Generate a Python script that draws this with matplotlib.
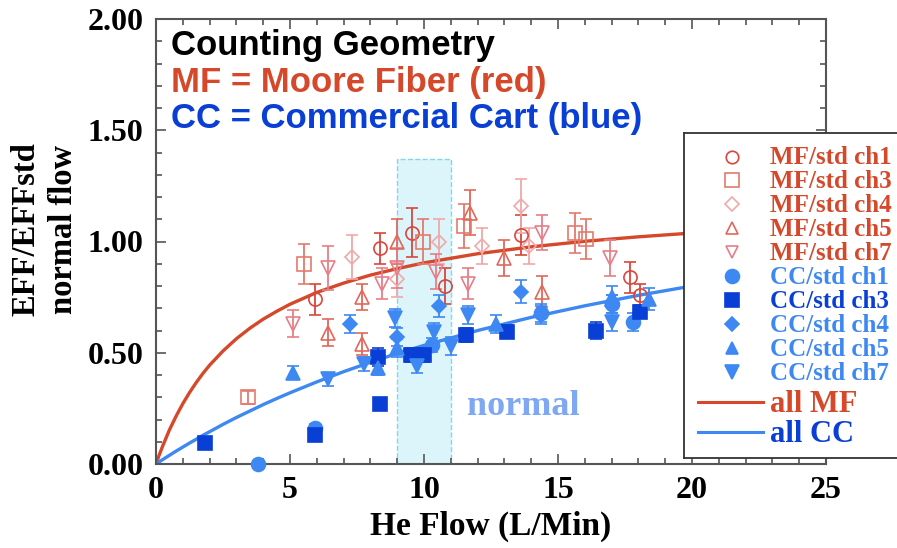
import matplotlib
matplotlib.use("Agg")
import matplotlib.pyplot as plt

# ---------------- data ----------------
mf1_x = [5.94, 8.34, 9.55, 10.8, 13.63, 17.7, 18.05]
mf1_y = [0.74, 0.97, 1.04, 0.80, 1.03, 0.84, 0.76]
mf1_e = [0.07, 0.07, 0.11, 0.08, 0.09, 0.07, 0.05]

mf3_x = [3.43, 5.53, 9.98, 11.48, 15.62, 16.03]
mf3_y = [0.30, 0.90, 1.00, 1.07, 1.04, 1.01]
mf3_e = [0.03, 0.09, 0.10, 0.10, 0.09, 0.09]

mf4_x = [7.3, 9.0, 10.55, 12.17, 13.63, 13.9]
mf4_y = [0.93, 0.83, 1.00, 0.98, 1.16, 0.98]
mf4_e = [0.10, 0.08, 0.10, 0.08, 0.12, 0.08]

mf5_x = [6.43, 7.7, 7.7, 9.0, 11.73, 12.97, 14.4]
mf5_y = [0.59, 0.75, 0.54, 1.00, 1.13, 0.925, 0.775]
mf5_e = [0.06, 0.06, 0.05, 0.10, 0.10, 0.08, 0.07]

mf7_x = [5.12, 6.43, 8.45, 9.0, 10.43, 11.66, 14.4, 16.93]
mf7_y = [0.63, 0.88, 0.81, 0.88, 0.865, 0.81, 1.04, 0.925]
mf7_e = [0.06, 0.10, 0.07, 0.09, 0.08, 0.07, 0.08, 0.08]

cc1_x = [3.8, 5.94, 10.3, 14.35, 17.0, 17.8]
cc1_y = [0.0, 0.16, 0.535, 0.68, 0.72, 0.64]
cc1_e = [0.0, 0.02, 0.03, 0.04, 0.04, 0.04]

cc3_x = [1.83, 5.94, 8.3, 8.37, 9.5, 10.0, 11.57, 13.1, 16.4, 18.05]
cc3_y = [0.094, 0.13, 0.48, 0.27, 0.49, 0.49, 0.58, 0.595, 0.60, 0.685]
cc3_e = [0.01, 0.02, 0.04, 0.0, 0.03, 0.03, 0.03, 0.03, 0.04, 0.03]

cc4_x = [7.25, 9.0, 10.55, 13.63, 14.35, 17.0]
cc4_y = [0.63, 0.57, 0.71, 0.775, 0.67, 0.71]
cc4_e = [0.04, 0.04, 0.05, 0.05, 0.04, 0.05]

cc5_x = [5.12, 8.3, 9.0, 12.67, 17.0, 18.4]
cc5_y = [0.41, 0.43, 0.52, 0.63, 0.75, 0.74]
cc5_e = [0.03, 0.03, 0.04, 0.04, 0.05, 0.05]

cc7_x = [6.43, 7.75, 8.93, 9.74, 10.36, 11.0, 11.66, 17.0]
cc7_y = [0.38, 0.45, 0.655, 0.44, 0.595, 0.53, 0.67, 0.64]
cc7_e = [0.03, 0.03, 0.04, 0.03, 0.04, 0.04, 0.04, 0.04]

# fitted curves
fit_x = [0, 0.1, 0.25, 0.5, 0.75, 1, 1.25, 1.5, 1.75, 2, 2.5, 3, 3.5, 4, 4.5,
         5, 6, 7, 8, 9, 10, 12, 14, 16, 18, 20]
mf_fit_y = [0, 0.034, 0.081, 0.153, 0.215, 0.271, 0.321, 0.366, 0.407, 0.444,
            0.508, 0.563, 0.610, 0.651, 0.686, 0.718, 0.771, 0.813, 0.849,
            0.878, 0.904, 0.945, 0.976, 1.001, 1.021, 1.038]
cc_fit_y = [0, 0.008, 0.020, 0.039, 0.058, 0.076, 0.094, 0.111, 0.129, 0.145,
            0.178, 0.209, 0.238, 0.267, 0.294, 0.320, 0.369, 0.415, 0.457,
            0.497, 0.533, 0.600, 0.659, 0.711, 0.758, 0.800]

normal_band = (9.0, 11.0, 1.37)

xticks = [0, 5, 10, 15, 20, 25]
yticks = [0.0, 0.5, 1.0, 1.5, 2.0]

# ---------------- style ----------------
RED = "#d5482a"
C_MF1 = "#d9473c"
C_MF3 = "#e47a6c"
C_MF4 = "#f0a8a8"
C_MF5 = "#e0685a"
C_MF7 = "#e67e88"
LBLUE = "#3d88f2"
DBLUE = "#0a3fd6"
SERIF = "Liberation Serif"
SANS = "Liberation Sans"

fig = plt.figure(figsize=(8.97, 5.48), dpi=100)
W, H = 897, 548
ax = fig.add_axes([156 / W, 84 / H, 670 / W, 445 / H])

ax.axvspan(normal_band[0], normal_band[1], ymax=normal_band[2] / 2.0,
           facecolor="#dcf5fa", edgecolor="#80d8ee", ls="--", lw=1.0, zorder=0)

ax.plot(fit_x, mf_fit_y, color=RED, lw=2.4, zorder=2)
ax.plot(fit_x, cc_fit_y, color=LBLUE, lw=2.4, zorder=2)

series = [
    (mf1_x, mf1_y, mf1_e, "o", C_MF1, False, 9.5),
    (mf3_x, mf3_y, mf3_e, "s", C_MF3, False, 10),
    (mf4_x, mf4_y, mf4_e, "D", C_MF4, False, 7.5),
    (mf5_x, mf5_y, mf5_e, "^", C_MF5, False, 9.5),
    (mf7_x, mf7_y, mf7_e, "v", C_MF7, False, 9.5),
    (cc1_x, cc1_y, cc1_e, "o", LBLUE, True, 10),
    (cc3_x, cc3_y, cc3_e, "s", DBLUE, True, 10),
    (cc4_x, cc4_y, cc4_e, "D", LBLUE, True, 7),
    (cc5_x, cc5_y, cc5_e, "^", LBLUE, True, 9.5),
    (cc7_x, cc7_y, cc7_e, "v", LBLUE, True, 10),
]
for x, y, e, m, c, filled, ms in series:
    ax.errorbar(x, y, yerr=e, fmt=m, color=c, mec=c,
                mfc=(c if filled else "none"), ms=ms, mew=1.2,
                elinewidth=1.3, capsize=4.5, capthick=1.3, zorder=3,
                clip_on=False)

ax.text(11.62, 0.22, "normal", color="#7ea8f2", fontsize=26,
        fontweight="bold", family=SERIF, ha="left", va="baseline")

ax.set_xlim(0, 25)
ax.set_ylim(0, 2.0)
ax.set_xticks(xticks)
ax.set_xticklabels([str(t) for t in xticks])
ax.set_yticks(yticks)
ax.set_yticklabels(["%.2f" % t for t in yticks])
ax.set_xticks([i for i in range(26)], minor=True)
ax.set_yticks([i / 10 for i in range(21)], minor=True)
ax.tick_params(which="both", direction="in", top=True, right=True,
               color="#555555", width=1.2)
ax.tick_params(which="major", length=7, pad=9)
ax.tick_params(which="minor", length=4)
for lab in ax.get_xticklabels() + ax.get_yticklabels():
    lab.set_fontfamily(SERIF)
    lab.set_fontweight("bold")
    lab.set_fontsize(23)
for s in ax.spines.values():
    s.set_color("#555555")
    s.set_linewidth(1.5)

ax.set_xlabel("He Flow (L/Min)", fontsize=24, fontweight="bold",
              family=SERIF, labelpad=4)
fig.text(26 / W, 1 - 229 / H, "EFF/EFFstd", rotation=90, ha="center",
         va="center", fontsize=23.5, fontweight="bold", family=SERIF)
fig.text(63.5 / W, 1 - 229 / H, "normal flow", rotation=90, ha="center",
         va="center", fontsize=23.5, fontweight="bold", family=SERIF)

# annotation block
for txt, col, base in [("Counting Geometry", "black", 55),
                       ("MF = Moore Fiber (red)", RED, 92),
                       ("CC = Commercial Cart (blue)", DBLUE, 128)]:
    fig.text(171 / W, 1 - base / H, txt, color=col, fontsize=25,
             fontweight="bold", family=SANS, ha="left", va="baseline")

# ---------------- legend box ----------------
lax = fig.add_axes([684 / W, (H - 458) / H, 240 / W, 325 / H], zorder=10)
lax.set_xlim(0, 240)
lax.set_ylim(325, 0)
lax.set_xticks([])
lax.set_yticks([])
lax.set_facecolor("white")
for s in lax.spines.values():
    s.set_color("#333333")
    s.set_linewidth(1.3)

leg_entries = [
    ("MF/std ch1", "o", C_MF1, False, 9, RED),
    ("MF/std ch3", "s", C_MF3, False, 9.5, RED),
    ("MF/std ch4", "D", C_MF4, False, 7, RED),
    ("MF/std ch5", "^", C_MF5, False, 8, RED),
    ("MF/std ch7", "v", C_MF7, False, 8, RED),
    ("CC/std ch1", "o", LBLUE, True, 10, LBLUE),
    ("CC/std ch3", "s", DBLUE, True, 10, DBLUE),
    ("CC/std ch4", "D", LBLUE, True, 7, LBLUE),
    ("CC/std ch5", "^", LBLUE, True, 9, LBLUE),
    ("CC/std ch7", "v", LBLUE, True, 10, LBLUE),
]
for i, (lab, m, c, filled, ms, tc) in enumerate(leg_entries):
    yc = 23.5 + 23.9 * i
    lax.plot([47.7], [yc], marker=m, color=c, mec=c,
             mfc=(c if filled else "none"), ms=ms, mew=1.2, ls="none")
    lax.text(86, yc + 8, lab, color=tc, fontsize=18, fontweight="bold",
             family=SERIF, ha="left", va="baseline")
for lab, c, tc, yc in [("all MF", RED, RED, 269), ("all CC", LBLUE, DBLUE, 299)]:
    lax.plot([14, 79], [yc, yc], color=c, lw=2.2)
    lax.text(86, yc + 10, lab, color=tc, fontsize=22, fontweight="bold",
             family=SERIF, ha="left", va="baseline")

fig.savefig("out.png", dpi=100)
